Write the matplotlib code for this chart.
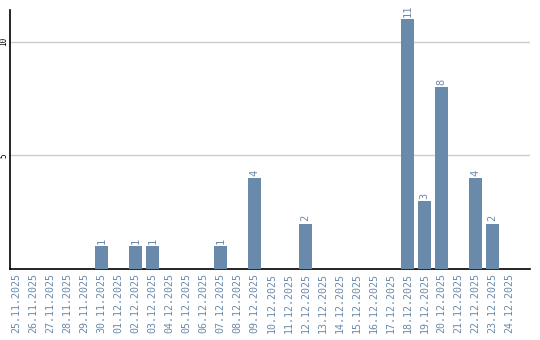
import matplotlib
matplotlib.use("Agg")
import matplotlib.pyplot as plt

dates = ["25.11.2025","26.11.2025","27.11.2025","28.11.2025","29.11.2025","30.11.2025",
         "01.12.2025","02.12.2025","03.12.2025","04.12.2025","05.12.2025","06.12.2025",
         "07.12.2025","08.12.2025","09.12.2025","10.12.2025","11.12.2025","12.12.2025",
         "13.12.2025","14.12.2025","15.12.2025","16.12.2025","17.12.2025","18.12.2025",
         "19.12.2025","20.12.2025","21.12.2025","22.12.2025","23.12.2025","24.12.2025"]
values = [0,0,0,0,0,1,0,1,1,0,0,0,1,0,4,0,0,2,0,0,0,0,0,11,3,8,0,4,2,0]
yticks = [5, 10]

bar_color = "#6a8aab"
label_color = "#6a8aab"

fig = plt.figure(figsize=(5.4, 3.4), dpi=100)
ax = fig.add_axes([10/540, 71/340, 520/540, 259/340])
x = list(range(len(dates)))
bars = ax.bar(x, values, width=0.8, color=bar_color, zorder=3)
for xi, v in zip(x, values):
    if v > 0:
        ax.text(xi, v + 0.1, str(v), rotation=90, ha="center", va="bottom",
                color=label_color, fontsize=7.5, family="DejaVu Sans Mono")

ax.set_xlim(-0.38, 30.2)
ax.set_ylim(0, 11.4)
ax.set_xticks(x)
ax.set_xticklabels(dates, rotation=90, fontsize=7.2, color=label_color, family="DejaVu Sans Mono")
ax.set_yticks(yticks)
ax.set_yticklabels([str(t) for t in yticks], rotation=90, fontsize=5.5, family="DejaVu Sans Mono", va="center")
ax.tick_params(axis="x", length=0, pad=3)
ax.tick_params(axis="y", length=0, pad=1)
ax.yaxis.grid(True, color="#cccccc", linewidth=1, zorder=0)
for s in ["top", "right"]:
    ax.spines[s].set_visible(False)
ax.spines["left"].set_linewidth(1.2)
ax.spines["bottom"].set_linewidth(1.2)

fig.savefig("out.png", dpi=100)
